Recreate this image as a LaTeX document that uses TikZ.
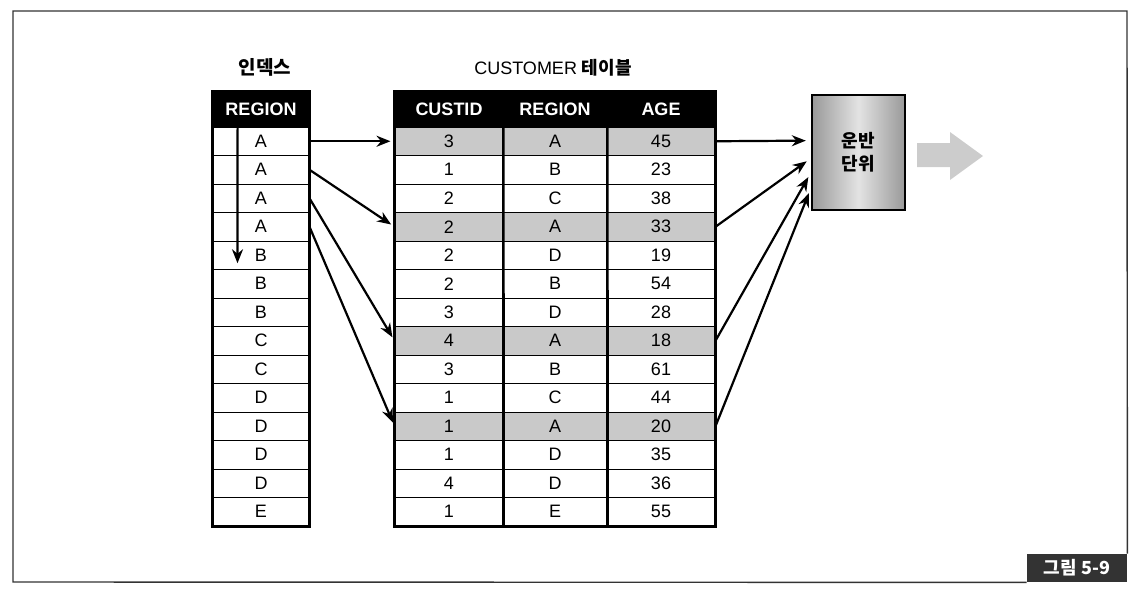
\documentclass[tikz,border=0pt]{standalone}
\usepackage{fontspec}
\setmainfont{Liberation Sans}
\newfontfamily\kr{Noto Sans CJK KR}
\usetikzlibrary{arrows.meta,calc}

\colorlet{hitgray}{gray!42}
\tikzset{
  cell/.style={draw, line width=0.5pt, minimum height=14.25pt, inner sep=0pt, font=\fontsize{9}{10}\selectfont},
  headcell/.style={fill=black, text=white, minimum height=17.5pt, inner sep=0pt, font=\fontsize{9}{10}\selectfont\bfseries},
  tblframe/.style={line width=1.3pt},
  link/.style={->, line width=1.1pt, shorten >=2pt},
}

\begin{document}
\begin{tikzpicture}[x=0.5pt,y=-0.5pt,>={Stealth[length=7pt,width=5.5pt]}]
\useasboundingbox (0,0) rectangle (1142,596);

% Frame and figure tag
\node[fill=black!80, text=white, minimum width=50pt, minimum height=14pt, inner sep=0pt, font=\kr\bfseries\fontsize{9}{10}\selectfont] (fig) at (1077,568) {그림 5-9};
\draw[line width=0.7pt, black!80] (fig.south west) -- (13,582) -- (13,11) -- (1127,11) -- (fig.north east);

% Titles
\node[font=\kr\bfseries\fontsize{9.5}{11}\selectfont] (idxtitle) at (265,67) {인덱스};
\node[font=\fontsize{9}{11}\selectfont] (tbltitle) at (553,68) {CUSTOMER {\kr\bfseries 테이블}};

% Index table
\node[headcell, minimum width=48pt] (idxhead) at (261,109.5) {REGION};
\foreach \r [count=\i] in {A,A,A,A,B,B,B,C,C,D,D,D,D,E}
  \node[cell, minimum width=48pt] (idx\i) at (261,{127+28.5*(\i-0.5)}) {\r};
\draw[tblframe] (idxhead.north west) rectangle (idx14.south east);

% Customer table
\node[headcell, minimum width=54pt] (hcid) at (449,109.5) {CUSTID};
\node[headcell, minimum width=52pt] (hrg) at (555,109.5) {REGION};
\node[headcell, minimum width=54pt] (hage) at (661,109.5) {AGE};
\foreach \id/\rg/\age/\fc [count=\i] in {3/A/45/hitgray, 1/B/23/white, 2/C/38/white,
    2/A/33/hitgray, 2/D/19/white, 2/B/54/white, 3/D/28/white, 4/A/18/hitgray,
    3/B/61/white, 1/C/44/white, 1/A/20/hitgray, 1/D/35/white, 4/D/36/white, 1/E/55/white} {
  \node[cell, fill=\fc, minimum width=54pt] (cid\i) at (449,{127+28.5*(\i-0.5)}) {\id};
  \node[cell, fill=\fc, minimum width=52pt] (crg\i) at (555,{127+28.5*(\i-0.5)}) {\rg};
  \node[cell, fill=\fc, minimum width=54pt] (cage\i) at (661,{127+28.5*(\i-0.5)}) {\age};
}
\draw[tblframe] (hcid.north west) rectangle (cage14.south east);
\draw[tblframe] (hcid.north east) -- (cid14.south east);
\draw[tblframe] (hrg.north east) -- (crg14.south east);

% Scan down the index
\coordinate (scantop) at ($(idxhead.south west)+(25,0)$);
\coordinate (scanend) at ($(idx5.west)+(25,8)$);
\draw[->, line width=1.1pt] (scantop) -- (scanend);

% Index rows to table rows
\draw[link] (idx1.east) -- (cid1.west);
\draw[link] (idx2.east) -- (cid4.west);
\draw[link] (idx3.east) -- (cid8.west);
\draw[link] (idx4.east) -- (cid11.west);

% Shipping unit
\node[draw, line width=1.2pt, left color=gray!80, right color=gray!80, middle color=gray!22,
  minimum width=46.5pt, minimum height=57.5pt, align=center,
  font=\kr\bfseries\fontsize{9}{11.5}\selectfont] (unit) at (858.5,152.5) {운반\\단위};
\draw[link, shorten >=2.5pt] (cage1.east) -- (unit.166);
\draw[link, shorten >=2.5pt] (cage4.east) -- (unit.187);
\draw[link, shorten >=2.5pt] (cage8.east) -- (unit.203);
\draw[link, shorten >=2.5pt] (cage11.east) -- (unit.217);

% Output arrow
\fill[gray!40] (917,143) -- (950,143) -- (950,132) -- (983,156) -- (950,180) -- (950,167) -- (917,167) -- cycle;
\end{tikzpicture}
\end{document}
